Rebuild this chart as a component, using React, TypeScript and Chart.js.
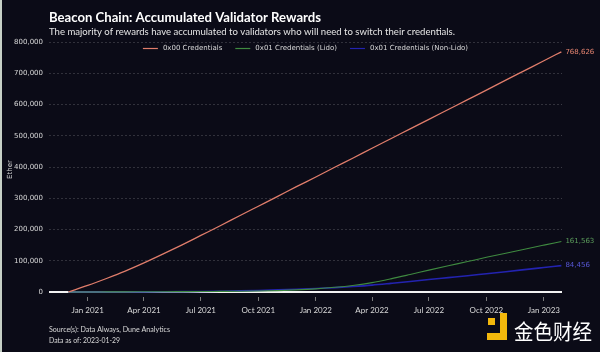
import React, { useEffect, useRef } from 'react';
import { Chart, registerables } from 'chart.js';

Chart.register(...registerables);

// ---------------- data ----------------
const dates = [
  '2020-12-01', '2021-01-01', '2021-02-01', '2021-03-01', '2021-04-01', '2021-05-01', '2021-06-01',
  '2021-07-01', '2021-08-01', '2021-09-01', '2021-10-01', '2021-11-01', '2021-12-01',
  '2022-01-01', '2022-02-01', '2022-03-01', '2022-04-01', '2022-05-01', '2022-06-01',
  '2022-07-01', '2022-08-01', '2022-09-01', '2022-10-01', '2022-11-01', '2022-12-01',
  '2023-01-01', '2023-01-29',
];

const credentials0x00 = [
  0, 21000, 44000, 66000, 93000, 121000, 151000,
  181000, 212000, 244000, 274500, 306000, 337000,
  368000, 400000, 428000, 460000, 490500, 522000,
  552500, 584000, 615500, 646000, 678000, 708500,
  740000, 768626,
];

const credentials0x01Lido = [
  0, 100, 300, 500, 700, 900, 1200,
  1500, 2000, 2500, 3200, 4500, 6700,
  10000, 15000, 21000, 30000, 42000, 56000,
  70000, 84000, 97500, 111000, 124000, 137000,
  150000, 161563,
];

const credentials0x01NonLido = [
  0, 0, 100, 200, 400, 700, 1100,
  1700, 2500, 3500, 5000, 6800, 8800,
  11000, 14000, 17500, 22000, 27500, 33500,
  40000, 46000, 52000, 58500, 65000, 71500,
  78300, 84456,
];

const seriesLabels = ['0x00 Credentials', '0x01 Credentials (Lido)', '0x01 Credentials (Non-Lido)'];
const yTickValues = [0, 100000, 200000, 300000, 400000, 500000, 600000, 700000, 800000];
const xTickDates = [
  '2021-01-01', '2021-04-01', '2021-07-01', '2021-10-01', '2022-01-01',
  '2022-04-01', '2022-07-01', '2022-10-01', '2023-01-01',
];
const monthNames = ['Jan', 'Feb', 'Mar', 'Apr', 'May', 'Jun', 'Jul', 'Aug', 'Sep', 'Oct', 'Nov', 'Dec'];

const TITLE = 'Beacon Chain: Accumulated Validator Rewards';
const SUBTITLE = 'The majority of rewards have accumulated to validators who will need to switch their credentials.';
const SOURCE = 'Source(s): Data Always, Dune Analytics';
const AS_OF = 'Data as of: 2023-01-29';
const WATERMARK = '金色财经';
const Y_TITLE = 'Ether';

// ---------------- style ----------------
const BG = '#0b0b17';
const TEXT = '#d9d9d9';
const LINE_COLORS = ['#e07d6b', '#3f8a40', '#2323b0'];
const LABEL_COLORS = ['#e58470', '#5c9e5c', '#5757d6'];

const ts = (d: string) => Date.parse(d + 'T00:00:00Z');

function fitText(ctx: CanvasRenderingContext2D, text: string, x: number, y: number, font: string, color: string, targetW?: number) {
  ctx.save();
  ctx.font = font;
  ctx.fillStyle = color;
  ctx.textAlign = 'left';
  ctx.textBaseline = 'alphabetic';
  const w = ctx.measureText(text).width;
  ctx.translate(x, y);
  if (targetW && w > 0) ctx.scale(targetW / w, 1);
  ctx.fillText(text, 0, 0);
  ctx.restore();
}

const bgPlugin = {
  id: 'bgPlugin',
  beforeDraw(chart: any) {
    const { ctx, width, height } = chart;
    ctx.save();
    ctx.fillStyle = BG;
    ctx.fillRect(0, 0, width, height);
    ctx.fillStyle = '#c6d0c6';
    ctx.fillRect(0, 0, 2, height);
    ctx.restore();
  },
};

const zeroLinePlugin = {
  id: 'zeroLine',
  beforeDatasetsDraw(chart: any) {
    const { ctx, chartArea, scales } = chart;
    const y = scales.y.getPixelForValue(0);
    ctx.save();
    ctx.strokeStyle = '#f2f2f2';
    ctx.lineWidth = 2;
    ctx.beginPath();
    ctx.moveTo(chartArea.left, y);
    ctx.lineTo(chartArea.right, y);
    ctx.stroke();
    ctx.restore();
  },
};

const endLabelPlugin = {
  id: 'endLabels',
  afterDatasetsDraw(chart: any) {
    const { ctx } = chart;
    ctx.save();
    ctx.font = '7px "DejaVu Sans"';
    ctx.textAlign = 'left';
    ctx.textBaseline = 'middle';
    chart.data.datasets.forEach((ds: any, i: number) => {
      const meta = chart.getDatasetMeta(i);
      const pt = meta.data[meta.data.length - 1];
      const v = ds.data[ds.data.length - 1].y;
      ctx.fillStyle = LABEL_COLORS[i];
      ctx.fillText(Number(v).toLocaleString('en-US'), pt.x + 4, pt.y);
    });
    ctx.restore();
  },
};

const legendPlugin = {
  id: 'insideLegend',
  afterDatasetsDraw(chart: any) {
    const { ctx, chartArea } = chart;
    ctx.save();
    ctx.font = '7px "DejaVu Sans"';
    const lineW = 15, gap = 5, pad = 13;
    const items = chart.data.datasets.map((ds: any) => ({
      label: ds.label, color: ds.borderColor, w: ctx.measureText(ds.label).width,
    }));
    const total = items.reduce((s: number, it: any) => s + lineW + gap + it.w, 0) + pad * (items.length - 1);
    let x = (chartArea.left + chartArea.right) / 2 - total / 2;
    const y = chartArea.top + 6.5;
    ctx.textBaseline = 'middle';
    items.forEach((it: any) => {
      ctx.strokeStyle = it.color;
      ctx.lineWidth = 1.2;
      ctx.beginPath();
      ctx.moveTo(x, y);
      ctx.lineTo(x + lineW, y);
      ctx.stroke();
      ctx.fillStyle = TEXT;
      ctx.fillText(it.label, x + lineW + gap, y);
      x += lineW + gap + it.w + pad;
    });
    ctx.restore();
  },
};

const textPlugin = {
  id: 'texts',
  afterDraw(chart: any) {
    const { ctx, chartArea } = chart;
    const left = chartArea.left;
    fitText(ctx, TITLE, left, 22, 'bold 13px Lato', '#ffffff', 272);
    fitText(ctx, SUBTITLE, left, 35, '10px Lato', '#e6e6e6', 406);
    fitText(ctx, SOURCE, left, 332, '7px Lato', TEXT, 121);
    fitText(ctx, AS_OF, left, 343, '7px Lato', TEXT, 71);
    // watermark
    ctx.save();
    ctx.fillStyle = '#f3b80c';
    ctx.fillRect(500, 313, 7, 27);
    ctx.fillRect(487, 333, 20, 7);
    ctx.fillRect(488, 318, 7, 7);
    ctx.restore();
    fitText(ctx, WATERMARK, 514, 339, '21px "Noto Sans CJK SC"', '#ffffff', 78);
  },
};

export default function App() {
  const canvasRef = useRef<HTMLCanvasElement | null>(null);

  useEffect(() => {
    if (!canvasRef.current) return;
    const series = [credentials0x00, credentials0x01Lido, credentials0x01NonLido];
    const widths = [1.3, 1.1, 1.6];
    const chart = new Chart(canvasRef.current, {
      type: 'line',
      data: {
        datasets: series.map((vals, i) => ({
          label: seriesLabels[i],
          data: dates.map((d, j) => ({ x: ts(d), y: vals[j] })),
          borderColor: LINE_COLORS[i],
          backgroundColor: LINE_COLORS[i],
          borderWidth: widths[i],
          pointRadius: 0,
          cubicInterpolationMode: 'monotone' as const,
          fill: false,
        })),
      },
      options: {
        responsive: false,
        devicePixelRatio: 1,
        animation: false,
        layout: { padding: { top: 42, right: 38, bottom: 0, left: 0 } },
        plugins: {
          legend: { display: false },
          tooltip: { enabled: false },
          title: { display: false },
        },
        scales: {
          x: {
            type: 'linear',
            min: ts('2020-10-31'),
            max: ts('2023-01-30'),
            afterBuildTicks: (s: any) => { s.ticks = xTickDates.map((d) => ({ value: ts(d) })); },
            afterFit: (s: any) => { s.height = 55; },
            grid: { display: true, drawOnChartArea: false, drawTicks: true, tickLength: 4, tickColor: '#7a7a7a', tickWidth: 1 },
            border: { display: false },
            ticks: {
              color: TEXT,
              font: { family: 'Lato', size: 8 },
              padding: 5,
              maxRotation: 0,
              autoSkip: false,
              callback: (v: any) => {
                const d = new Date(Number(v));
                return monthNames[d.getUTCMonth()] + ' ' + d.getUTCFullYear();
              },
            },
          },
          y: {
            min: -16000,
            max: 800000,
            afterBuildTicks: (s: any) => { s.ticks = yTickValues.map((v) => ({ value: v })); },
            afterFit: (s: any) => { s.width = 49; },
            grid: {
              color: (c: any) => (c.tick && c.tick.value === 0 ? 'rgba(0,0,0,0)' : 'rgba(255,255,255,0.2)'),
              lineWidth: 0.8,
              drawTicks: false,
            },
            border: { display: false, dash: [2, 2] },
            ticks: {
              color: TEXT,
              font: { family: 'DejaVu Sans', size: 7 },
              padding: 6,
              callback: (v: any) => Number(v).toLocaleString('en-US'),
            },
            title: {
              display: true,
              text: Y_TITLE,
              color: TEXT,
              font: { family: 'DejaVu Sans', size: 7 },
              padding: { top: 6, bottom: 0 },
            },
          },
        },
      },
      plugins: [bgPlugin, zeroLinePlugin, endLabelPlugin, legendPlugin, textPlugin],
    });
    return () => chart.destroy();
  }, []);

  return (
    <div style={{ position: 'fixed', left: 0, top: 0, width: 600, height: 352, background: BG }}>
      <canvas ref={canvasRef} width={600} height={352} style={{ display: 'block' }} />
    </div>
  );
}
